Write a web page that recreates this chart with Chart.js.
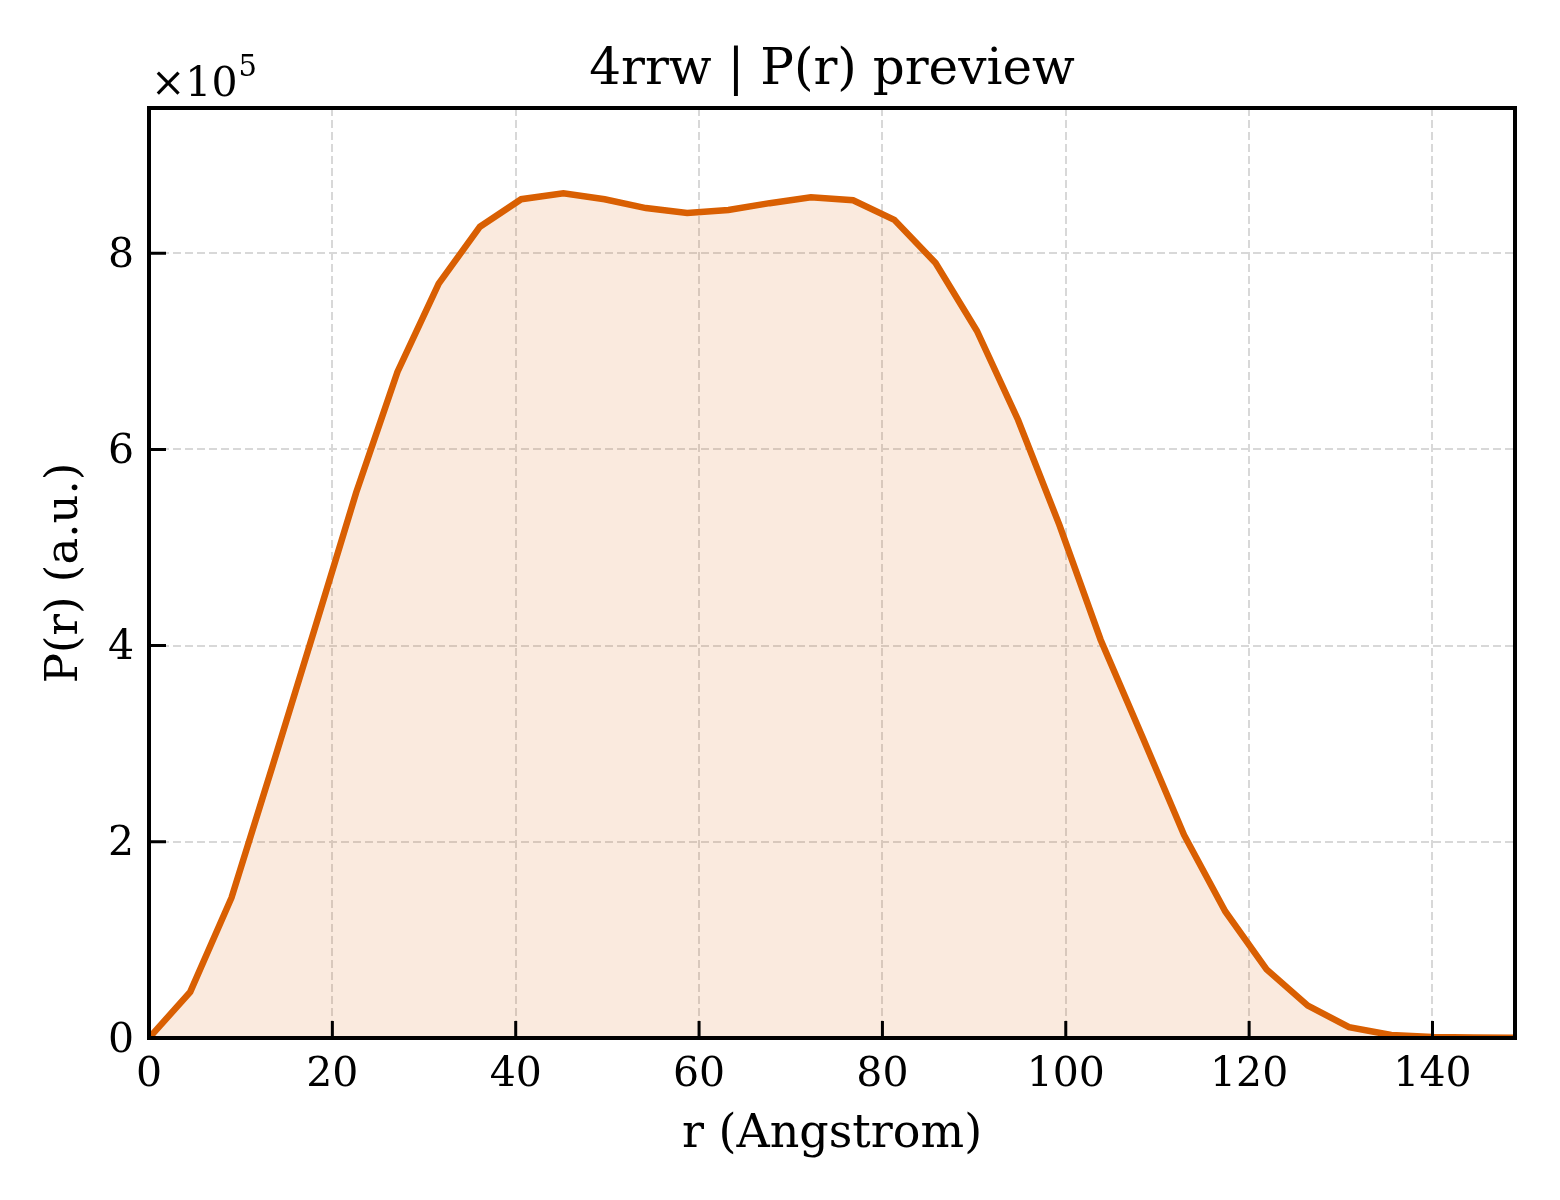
<!DOCTYPE html>
<html>
<head>
<meta charset="utf-8">
<script src="https://cdn.jsdelivr.net/npm/chart.js@4.4.1/dist/chart.umd.min.js"></script>
<style>
  html, body { margin: 0; padding: 0; background: #fff; }
  canvas { display: block; }
</style>
</head>
<body>
<canvas id="prchart" width="1560" height="1200"></canvas>
<script>
// r grid (Angstrom) and P(r) values read from the preview
const rValues = [0, 4.5, 9.0, 13.5, 18.1, 22.6, 27.1, 31.6, 36.1, 40.6, 45.2, 49.7,
  54.2, 58.7, 63.2, 67.7, 72.2, 76.8, 81.3, 85.8, 90.3, 94.8, 99.3, 103.8, 108.4,
  112.9, 117.4, 121.9, 126.4, 130.9, 135.5, 140.0, 144.5, 149.0];
const prValues = [0, 47000, 143000, 278000, 418000, 556000, 679000, 769000, 827000,
  855000, 861000, 855000, 846000, 841000, 844000, 851000, 857000, 854000, 834000,
  790000, 721000, 630000, 523000, 406000, 306000, 207000, 129000, 70000, 33000,
  11000, 3000, 1000, 500, 300];
const xTicks = [0, 20, 40, 60, 80, 100, 120, 140];
const yTicks = [0, 200000, 400000, 600000, 800000];

const titleText = '4rrw | P(r) preview';
const FONT = '"DejaVu Serif", "Liberation Serif", serif';
const lineColor = '#d95f02';

const points = rValues.map((r, i) => ({x: r, y: prValues[i]}));

// frame, inward ticks, title and offset text
const decorPlugin = {
  id: 'decor',
  afterDraw(chart) {
    const {ctx, chartArea: a, scales} = chart;
    ctx.save();
    ctx.strokeStyle = '#000';
    ctx.lineWidth = 3;
    ctx.beginPath();
    xTicks.forEach(v => {
      const px = scales.x.getPixelForValue(v);
      ctx.moveTo(px, a.bottom);
      ctx.lineTo(px, a.bottom - 17);
    });
    yTicks.forEach(v => {
      const py = scales.y.getPixelForValue(v);
      ctx.moveTo(a.left, py);
      ctx.lineTo(a.left + 17, py);
    });
    ctx.stroke();
    ctx.lineWidth = 4;
    ctx.strokeRect(a.left, a.top, a.right - a.left, a.bottom - a.top);

    ctx.fillStyle = '#000';
    ctx.textBaseline = 'alphabetic';
    ctx.textAlign = 'center';
    ctx.font = '50px ' + FONT;
    ctx.fillText(titleText, (a.left + a.right) / 2, a.top - 24);

    ctx.textAlign = 'left';
    ctx.font = '41px ' + FONT;
    const base = '\u00d710';
    ctx.fillText(base, a.left + 2, a.top - 12);
    const w = ctx.measureText(base).width;
    ctx.font = '29px ' + FONT;
    ctx.fillText('5', a.left + 2 + w + 1, a.top - 32);
    ctx.restore();
  }
};

new Chart('prchart', {
  type: 'line',
  data: {
    datasets: [{
      data: points,
      borderColor: lineColor,
      borderWidth: 6.5,
      backgroundColor: 'rgba(217,95,2,0.13)',
      fill: 'origin',
      pointRadius: 0,
      tension: 0
    }]
  },
  options: {
    responsive: false,
    devicePixelRatio: 1,
    animation: false,
    layout: { padding: { left: 0, right: 45, top: 108, bottom: 0 } },
    plugins: {
      legend: { display: false },
      tooltip: { enabled: false },
      title: { display: false }
    },
    scales: {
      x: {
        type: 'linear',
        min: 0,
        max: 149,
        afterFit(scale) { scale.height = 162; },
        afterBuildTicks(scale) { scale.ticks = xTicks.map(v => ({value: v})); },
        grid: { color: '#d8d8d8', lineWidth: 2, drawTicks: false },
        border: { display: false, dash: [8, 4] },
        ticks: {
          color: '#000',
          padding: 13,
          maxRotation: 0,
          font: { family: FONT, size: 41 }
        },
        title: {
          display: true,
          text: 'r (Angstrom)',
          color: '#000',
          font: { family: FONT, size: 46 },
          padding: { top: 0, bottom: 37 }
        }
      },
      y: {
        type: 'linear',
        min: 0,
        max: 948000,
        afterFit(scale) { scale.width = 149; },
        afterBuildTicks(scale) { scale.ticks = yTicks.map(v => ({value: v})); },
        grid: { color: '#d8d8d8', lineWidth: 2, drawTicks: false },
        border: { display: false, dash: [8, 4] },
        ticks: {
          color: '#000',
          padding: 15,
          labelOffset: 3,
          font: { family: FONT, size: 41 },
          callback: v => String(v / 100000)
        },
        title: {
          display: true,
          text: 'P(r) (a.u.)',
          color: '#000',
          font: { family: FONT, size: 45 },
          padding: { top: 38, bottom: 0 }
        }
      }
    }
  },
  plugins: [decorPlugin]
});
</script>
</body>
</html>
